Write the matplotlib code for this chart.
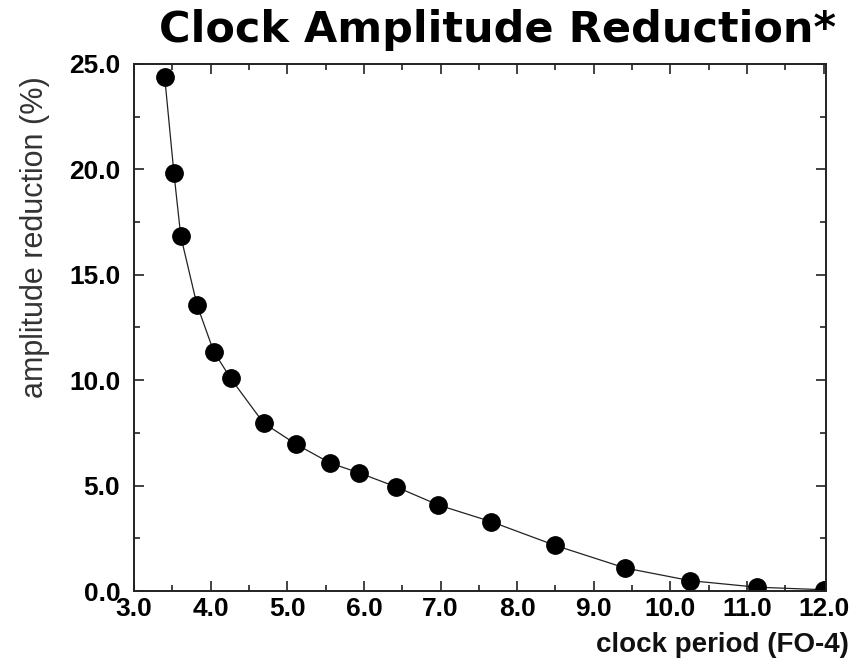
import matplotlib.pyplot as plt
from matplotlib.ticker import MultipleLocator, FormatStrFormatter

# clock period (FO-4) vs amplitude reduction (%)
clock_period = [3.40, 3.52, 3.61, 3.82, 4.04, 4.26, 4.69, 5.12, 5.56, 5.94,
                6.42, 6.97, 7.66, 8.49, 9.41, 10.26, 11.13, 12.0]
amp_reduction = [24.38, 19.84, 16.83, 13.59, 11.36, 10.09, 7.97, 6.95, 6.07,
                 5.60, 4.94, 4.08, 3.29, 2.17, 1.09, 0.49, 0.18, 0.06]

plt.rcParams['font.family'] = ['Liberation Sans', 'DejaVu Sans']

fig = plt.figure(figsize=(8.67, 6.61), dpi=100)
ax = fig.add_axes([0.1546, 0.1059, 0.7981, 0.7973])

ax.plot(clock_period, amp_reduction, color='#222222', linewidth=0.9,
        marker='o', markersize=12.5, markerfacecolor='black',
        markeredgecolor='black')

ax.set_xlim(3.0, 12.03)
ax.set_ylim(0.0, 25.0)
ax.xaxis.set_major_locator(MultipleLocator(1.0))
ax.xaxis.set_minor_locator(MultipleLocator(0.5))
ax.yaxis.set_major_locator(MultipleLocator(5.0))
ax.yaxis.set_minor_locator(MultipleLocator(2.5))
ax.xaxis.set_major_formatter(FormatStrFormatter('%.1f'))
ax.yaxis.set_major_formatter(FormatStrFormatter('%.1f'))

ax.tick_params(which='both', direction='in', top=True, right=True,
               width=1.2, color='#222222')
ax.tick_params(which='major', length=7)
ax.tick_params(which='minor', length=4.5)
ax.tick_params(axis='x', which='major', pad=4, labelsize=19)
ax.tick_params(axis='y', which='major', pad=10, labelsize=19)
for lab in ax.get_xticklabels() + ax.get_yticklabels():
    lab.set_fontweight('bold')
for sp in ax.spines.values():
    sp.set_linewidth(1.4)
    sp.set_color('#222222')

fig.text(0.979, 0.013, 'clock period (FO-4)', ha='right', va='baseline',
         fontsize=20, fontweight='bold', color='#111111')
fig.text(0.040, 0.885, 'amplitude reduction (%)', rotation=90, ha='center',
         va='top', fontsize=22, color='#333333')

fig.text(0.574, 0.937, 'Clock Amplitude Reduction*', ha='center',
         va='baseline', fontsize=31, fontweight='bold',
         family=['DejaVu Sans'])

fig.savefig('out.png', dpi=100)
